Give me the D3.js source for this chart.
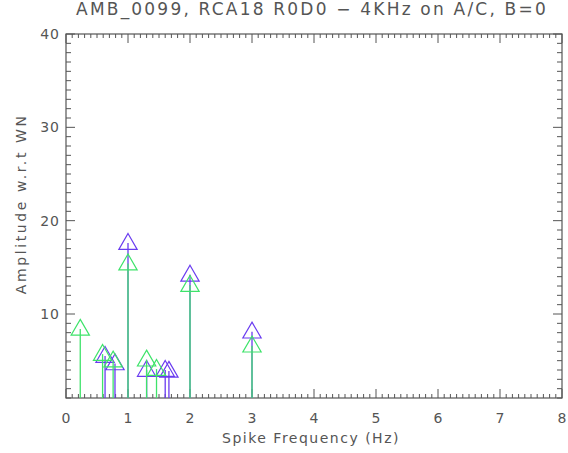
<!DOCTYPE html>
<html>
<head>
<meta charset="utf-8">
<script src="https://cdn.jsdelivr.net/npm/d3@7"></script>
<style>
  body { margin: 0; background: #fff; }
  text { font-family: "DejaVu Sans", sans-serif; fill: #555; }
</style>
</head>
<body>
<div id="chart"></div>
<script>
// spike peaks, two channels
var greenFreq = [0.23, 0.59, 0.76, 1.0, 1.3, 1.46, 2.0, 3.0]
var greenAmp  = [8.4, 5.7, 5.0, 15.4, 5.1, 4.1, 13.1, 6.6]
var blueFreq  = [0.63, 0.79, 1.0, 1.3, 1.6, 1.66, 2.0, 3.0]
var blueAmp   = [5.5, 4.7, 17.6, 4.0, 4.0, 3.9, 14.2, 8.1]

var xTicks = [0, 1, 2, 3, 4, 5, 6, 7, 8]
var yTicks = [10, 20, 30, 40]

let svg_width = 568
let svg_height = 453
var margin = { top: 34, right: 6, bottom: 55, left: 66 },
    width = svg_width - margin.left - margin.right,
    height = svg_height - margin.top - margin.bottom;

var svg = d3.select("#chart")
    .append("svg")
    .attr("width", svg_width)
    .attr("height", svg_height)
    .append("g")
    .attr("transform", "translate(" + margin.left + "," + margin.top + ")");

var xScale = d3.scaleLinear().domain([0, 8]).range([0, width]);
var yScale = d3.scaleLinear().domain([1, 40]).range([height, 0]);

var axisColor = "#555"

// frame
svg.append("rect")
    .attr("width", width).attr("height", height)
    .attr("fill", "none").attr("stroke", axisColor).attr("stroke-width", 1.2);

// minor / major ticks on all four sides
var xMinor = d3.range(0, 81).map(d => d / 10)
var yMinor = d3.range(1, 41)

svg.append("g").selectAll("line").data(xMinor).enter().append("line")
    .attr("x1", d => xScale(d)).attr("x2", d => xScale(d))
    .attr("y1", height).attr("y2", d => height - (Number.isInteger(d) ? 9 : 4))
    .attr("stroke", axisColor);
svg.append("g").selectAll("line").data(xMinor).enter().append("line")
    .attr("x1", d => xScale(d)).attr("x2", d => xScale(d))
    .attr("y1", 0).attr("y2", d => (Number.isInteger(d) ? 9 : 4))
    .attr("stroke", axisColor);
svg.append("g").selectAll("line").data(yMinor).enter().append("line")
    .attr("y1", d => yScale(d)).attr("y2", d => yScale(d))
    .attr("x1", 0).attr("x2", d => (d % 10 == 0 ? 9 : 5))
    .attr("stroke", axisColor);
svg.append("g").selectAll("line").data(yMinor).enter().append("line")
    .attr("y1", d => yScale(d)).attr("y2", d => yScale(d))
    .attr("x1", width).attr("x2", d => width - (d % 10 == 0 ? 9 : 5))
    .attr("stroke", axisColor);

// tick labels
svg.append("g").selectAll("text").data(xTicks).enter().append("text")
    .attr("x", d => xScale(d)).attr("y", height + 25)
    .attr("text-anchor", "middle").style("font-size", "14px")
    .text(d => d);
svg.append("g").selectAll("text").data(yTicks).enter().append("text")
    .attr("x", -6).attr("y", d => yScale(d) + 5)
    .attr("text-anchor", "end").style("font-size", "14px")
    .style("letter-spacing", "1px")
    .text(d => d);

// titles
svg.append("text")
    .attr("x", width / 2 - 2).attr("y", -19)
    .attr("text-anchor", "middle").style("font-size", "17px")
    .style("letter-spacing", "2.2px")
    .text("AMB_0099, RCA18 R0D0 \u2212 4KHz on A/C, B=0");
svg.append("text")
    .attr("x", width / 2 - 3).attr("y", height + 45)
    .attr("text-anchor", "middle").style("font-size", "14px")
    .style("letter-spacing", "1.5px")
    .text("Spike Frequency (Hz)");
svg.append("text")
    .attr("transform", "rotate(-90)")
    .attr("x", -yScale(21.8)).attr("y", -40)
    .attr("text-anchor", "middle").style("font-size", "14px")
    .style("letter-spacing", "2.6px")
    .text("Amplitude w.r.t WN");

var tri = d3.symbol().type(d3.symbolTriangle).size(145)

function drawSeries(freq, amp, color) {
    var data = freq.map((f, i) => ({ f: f, a: amp[i] }))
    var g = svg.append("g")
    g.selectAll("line").data(data).enter().append("line")
        .attr("x1", d => xScale(d.f)).attr("x2", d => xScale(d.f))
        .attr("y1", height).attr("y2", d => yScale(d.a))
        .attr("stroke", color).attr("stroke-width", 1.3);
    g.selectAll("path").data(data).enter().append("path")
        .attr("d", tri)
        .attr("transform", d => "translate(" + xScale(d.f) + "," + (yScale(d.a) + 1) + ")")
        .attr("fill", "none").attr("stroke", color).attr("stroke-width", 1.2);
}

drawSeries(blueFreq, blueAmp, "#6a3cf0")
drawSeries(greenFreq, greenAmp, "#3ee36a")
</script>
</body>
</html>
